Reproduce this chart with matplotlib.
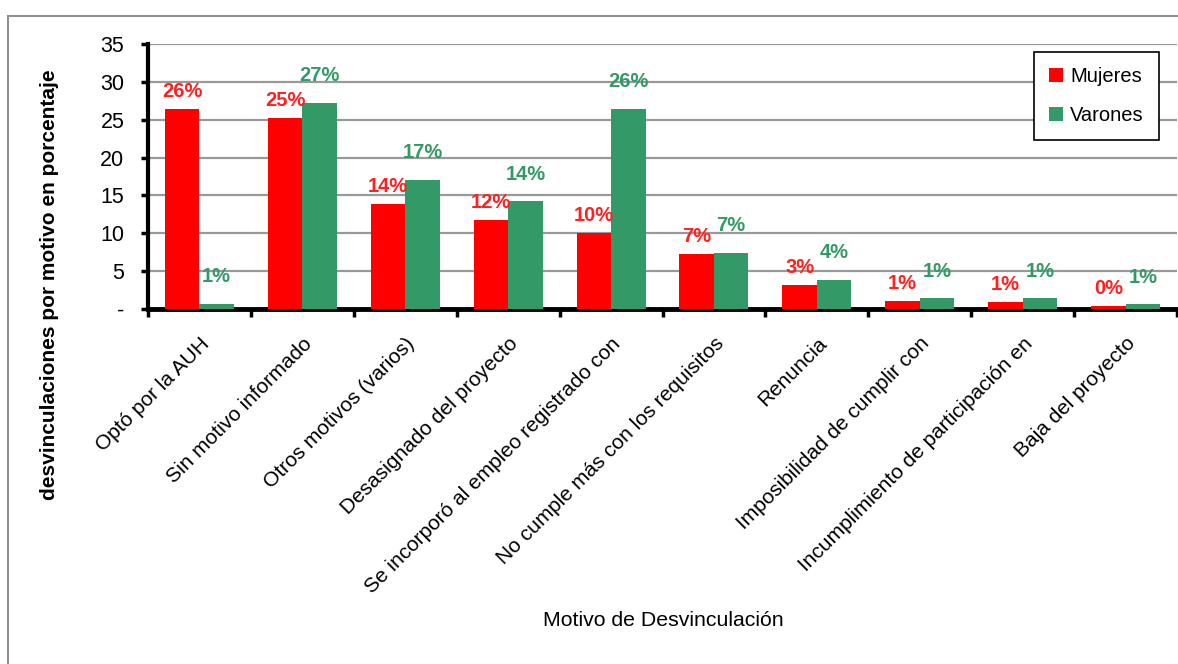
import numpy as np
import matplotlib.pyplot as plt
from matplotlib.patches import Rectangle

plt.rcParams['font.family'] = ['Liberation Sans', 'DejaVu Sans']

#------------------------DATOS-----------------------------------------
motivos = ["Optó por la AUH", "Sin motivo informado", "Otros motivos (varios)",
           "Desasignado del proyecto", "Se incorporó al empleo registrado con",
           "No cumple más con los requisitos", "Renuncia",
           "Imposibilidad de cumplir con", "Incumplimiento de participación en",
           "Baja del proyecto"]
mujeres = [26.4, 25.2, 13.9, 11.7, 10.0, 7.3, 3.2, 1.1, 0.9, 0.4]
varones = [0.7, 27.2, 17.1, 14.2, 26.4, 7.4, 3.8, 1.4, 1.4, 0.6]
yticks = [0, 5, 10, 15, 20, 25, 30, 35]
ytick_labels = ["-", "5", "10", "15", "20", "25", "30", "35"]

rojo = "#FF0000"
verde = "#339966"

fig = plt.figure(figsize=(11.78, 6.64), dpi=100)
# marco gris exterior
fig.patches.append(Rectangle((8 / 1178, -0.1), 1.2, 1.1 - 16 / 664,
                             transform=fig.transFigure, fill=False,
                             edgecolor="#909090", lw=1.5))

ax = fig.add_axes([148 / 1178, 1 - 309 / 664, 1029 / 1178, 265 / 664])

x = np.arange(len(motivos))
w = 0.335
ax.bar(x - w / 2, mujeres, w, color=rojo, label="Mujeres", zorder=3)
ax.bar(x + w / 2, varones, w, color=verde, label="Varones", zorder=3)

for i in range(len(motivos)):
    ax.text(x[i] - w / 2, mujeres[i] + 2.3, format(mujeres[i], ".0f") + "%",
            ha="center", va="center", color="#FF2020", fontsize=14.5,
            fontweight="bold", zorder=4)
    ax.text(x[i] + w / 2, varones[i] + 3.6, format(varones[i], ".0f") + "%",
            ha="center", va="center", color=verde, fontsize=14.5,
            fontweight="bold", zorder=4)

ax.set_xlim(-0.5, len(motivos) - 0.5)
ax.set_ylim(0, 35)
ax.set_yticks(yticks)
ax.set_yticklabels(ytick_labels, fontsize=15.5)
ax.yaxis.grid(True, color="#999999", lw=1.6, zorder=0)
ax.tick_params(axis="y", length=5, width=2.5, pad=12, colors="black")

# ticks del eje x entre categorias, etiquetas en el centro
ax.set_xticks(np.arange(len(motivos) + 1) - 0.5)
ax.set_xticklabels([])
ax.tick_params(axis="x", length=6, width=2.5)
ax.set_xticks(x, minor=True)
ax.set_xticklabels(motivos, minor=True, rotation=45, ha="right",
                   rotation_mode="anchor", fontsize=15)
ax.tick_params(axis="x", which="minor", length=0, pad=18)

for s in ["top", "right"]:
    ax.spines[s].set_visible(False)
ax.spines["left"].set_linewidth(3)
ax.spines["bottom"].set_linewidth(3.5)

leg = ax.legend(loc="upper right", bbox_to_anchor=(0.9825, 0.97), fontsize=14.5,
                fancybox=False, edgecolor="black", framealpha=1,
                handlelength=0.7, handleheight=0.7, handletextpad=0.35,
                labelspacing=1.0, borderpad=0.75, borderaxespad=0)
leg.get_frame().set_linewidth(1.2)

fig.text(50 / 1178, 1 - 285 / 664, "desvinculaciones por motivo en porcentaje",
         rotation=90, ha="center", va="center", fontsize=15, fontweight="bold")
fig.text(663 / 1178, 1 - 621 / 664, "Motivo de Desvinculación",
         ha="center", va="center", fontsize=15.3)

fig.savefig("out.png", dpi=100)
